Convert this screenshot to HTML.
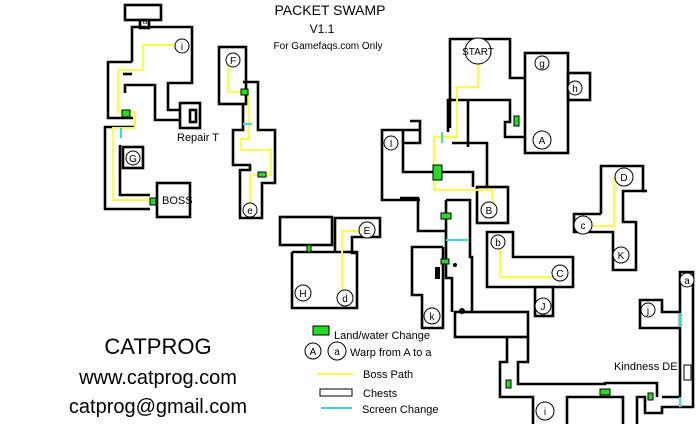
<!DOCTYPE html>
<html><head><meta charset="utf-8"><style>
html,body{margin:0;padding:0;background:#fff;}
svg{display:block;}
text{font-family:"Liberation Sans",sans-serif;fill:#000;}
</style></head><body>
<svg width="700" height="424" viewBox="0 0 700 424" xmlns="http://www.w3.org/2000/svg">
<g fill="none" stroke="#000" stroke-width="2.6">
<rect x="125" y="5" width="36" height="15"/>
<rect x="140" y="20" width="9" height="8"/>
<polyline points="132,62 132,27 192,27 192,83 168,83 168,110 180,110"/>
<rect x="180" y="103" width="20" height="25"/>
<rect x="190" y="110" width="6" height="12"/>
<polyline points="180,120 155,120 155,85 125,85 125,93"/>
<polyline points="123,74 132,74"/>
<polyline points="132,62 108,62 108,118 133,118"/>
<polyline points="135,127 105,127 105,209 150,209"/>
<polyline points="120,145 120,195 150,195"/>
<rect x="123" y="147" width="20" height="21"/>
<rect x="157" y="183" width="33" height="34"/>
<rect x="219" y="47" width="27" height="57"/>
<polyline points="243,82 258,82 258,130 275,130 275,183 262,183 262,218 240,218 240,170 250,170 250,165 233,165 233,130 243,130 243,104"/>
<polyline points="450,128 450,39 510,39 510,78 525,78"/>
<rect x="525" y="53" width="43" height="100"/>
<rect x="568" y="73" width="22" height="27"/>
<polyline points="448,132 448,100 510,100 510,122 505,122 505,137 525,137"/>
<polyline points="468,100 468,147"/>
<polyline points="452,143 487,143 487,187"/>
<rect x="477" y="187" width="31" height="36"/>
<polyline points="410,121 420,121 420,143 403,143"/>
<polyline points="420,200 382,200 382,130 420,130"/>
<polyline points="403,130 403,172 473,172 473,187"/>
<polyline points="400,198 418,198 418,231 445,231"/>
<polyline points="446,200 470,200 470,257 472,257 472,312"/>
<polyline points="446,200 446,278 452,278 452,312"/>
<polyline points="443,247 412,247 412,295 422,295 422,328 443,328 443,247"/>
<rect x="455" y="312" width="73" height="25"/>
<polyline points="507,337 507,362 500,362 500,397 533,397 533,424"/>
<polyline points="528,337 528,362 518,362 518,384 605,384 605,383 657,383 657,397"/>
<polyline points="567,424 567,397 623,397 623,424"/>
<polyline points="637,424 637,397 645,397 645,413 662,413 662,407 693,407 693,272 680,272 680,397 662,397"/>
<polyline points="680,328 640,328 640,300 662,300 662,312 680,312"/>
<rect x="684" y="365" width="7" height="15" stroke-width="1"/>
<polyline points="535,287 487,287 487,232 513,232 513,257 573,257 573,287 553,287"/>
<rect x="535" y="287" width="18" height="29"/>
<polyline points="643,191 647,191"/>
<polyline points="601,214 601,166 643,166 643,191 623,191 623,222 636,222 636,270 613,270 613,232 574,232 574,214 601,214"/>
<rect x="280" y="217" width="52" height="28"/>
<polyline points="357,253 352,253 352,237 380,237 380,218 335,218 335,252"/>
<polyline points="292,252 357,252 357,308 292,308 292,252"/>
<rect x="320" y="389" width="32" height="7" stroke-width="1"/>
</g>
<g fill="none" stroke="#ffff33" stroke-width="2">
<polyline points="182,45 143,45 143,70 118,70 118,112 135,112 135,128 113,128 113,200 152,200"/>
<polyline points="228,62 228,92 249,92 249,139 241,139 241,150 271,150 271,175 250,175 250,210"/>
<polyline points="478,60 478,87 457,87 457,137 434,137 434,190 492,190 492,205"/>
<polyline points="367,231 342,231 342,292"/>
<polyline points="500,243 500,277 560,277"/>
<polyline points="616,178 614,178 614,226 586,226"/>
<line x1="317" y1="374" x2="353" y2="374"/>
</g>
<g stroke="#33dddd" stroke-width="2">
<line x1="121" y1="128" x2="121" y2="138"/>
<line x1="243" y1="124" x2="252" y2="124"/>
<line x1="442" y1="132" x2="442" y2="143"/>
<line x1="446" y1="240" x2="468" y2="240"/>
<line x1="680" y1="313" x2="680" y2="327"/>
<line x1="680" y1="397" x2="680" y2="407"/>
<line x1="321" y1="408" x2="352" y2="408"/>
</g>
<g fill="#22dd22" stroke="#000" stroke-width="1">
<rect x="122" y="110" width="8" height="7"/>
<rect x="241" y="89" width="7" height="6"/>
<rect x="258" y="172" width="8" height="5"/>
<rect x="150" y="198" width="6" height="7"/>
<rect x="433" y="165" width="9" height="15"/>
<rect x="514" y="116" width="5" height="10"/>
<rect x="441" y="213" width="10" height="6"/>
<rect x="441" y="259" width="8" height="5"/>
<rect x="307" y="245" width="4" height="7"/>
<rect x="506" y="380" width="5" height="8"/>
<rect x="600" y="389" width="10" height="6"/>
<rect x="648" y="393" width="5" height="7"/>
<rect x="313" y="326" width="16" height="9"/>
</g>
<g fill="#000">
<rect x="435" y="267" width="5" height="12"/>
<circle cx="455" cy="265" r="2"/>
<circle cx="462" cy="311" r="3"/>
</g>
<g fill="#fff" stroke="#000" stroke-width="1">
<circle cx="182" cy="46" r="7"/>
<circle cx="233" cy="60" r="7"/>
<circle cx="133" cy="158" r="7"/>
<circle cx="250" cy="210" r="7"/>
<circle cx="478" cy="51" r="13"/>
<circle cx="542" cy="63" r="7"/>
<circle cx="575" cy="88" r="7"/>
<circle cx="542" cy="140" r="9"/>
<circle cx="391" cy="143" r="7"/>
<circle cx="489" cy="210" r="8"/>
<circle cx="367" cy="230" r="8"/>
<circle cx="303" cy="293" r="8"/>
<circle cx="345" cy="298" r="8"/>
<circle cx="432" cy="316" r="8"/>
<circle cx="498" cy="242" r="7"/>
<circle cx="560" cy="273" r="8"/>
<circle cx="543" cy="306" r="8"/>
<circle cx="624" cy="177" r="9"/>
<circle cx="583" cy="225" r="9"/>
<circle cx="621" cy="255" r="8"/>
<circle cx="687" cy="280" r="7"/>
<circle cx="648" cy="310" r="7"/>
<circle cx="545" cy="411" r="9"/>
<circle cx="313" cy="351" r="8"/>
<circle cx="337" cy="351" r="9"/>
</g>
<g font-size="10" text-anchor="middle">
<text x="182" y="50">i</text><text x="233" y="64">F</text><text x="133" y="162">G</text><text x="250" y="214">e</text>
<text x="478" y="55">START</text><text x="542" y="67">g</text><text x="575" y="92">h</text><text x="542" y="144">A</text>
<text x="391" y="147">I</text><text x="489" y="214">B</text><text x="367" y="234">E</text><text x="303" y="297">H</text>
<text x="345" y="302">d</text><text x="432" y="320">k</text><text x="498" y="246">b</text><text x="560" y="277">C</text>
<text x="543" y="310">J</text><text x="624" y="181">D</text><text x="583" y="229">c</text><text x="621" y="259">K</text>
<text x="687" y="284">a</text><text x="648" y="314">j</text><text x="545" y="415">i</text>
<text x="313" y="355">A</text><text x="337" y="355">a</text>
</g>
<text x="145" y="24" font-size="8" text-anchor="middle">a</text>
<g font-size="11">
<text x="162" y="204">BOSS</text>
<text x="177" y="141">Repair T</text>
<text x="614" y="370">Kindness DE</text>
<text x="334" y="339">Land/water Change</text>
<text x="350" y="356">Warp from A to a</text>
<text x="363" y="378">Boss Path</text>
<text x="363" y="397">Chests</text>
<text x="362" y="413">Screen Change</text>
</g>
<text x="330" y="15" font-size="14" text-anchor="middle">PACKET SWAMP</text>
<text x="322" y="33" font-size="12" text-anchor="middle">V1.1</text>
<text x="328" y="49" font-size="10" text-anchor="middle">For Gamefaqs.com Only</text>
<text x="158" y="354" font-size="22" text-anchor="middle">CATPROG</text>
<text x="158" y="384" font-size="20" text-anchor="middle">www.catprog.com</text>
<text x="158" y="413" font-size="20" text-anchor="middle">catprog@gmail.com</text>
</svg>
</body></html>
